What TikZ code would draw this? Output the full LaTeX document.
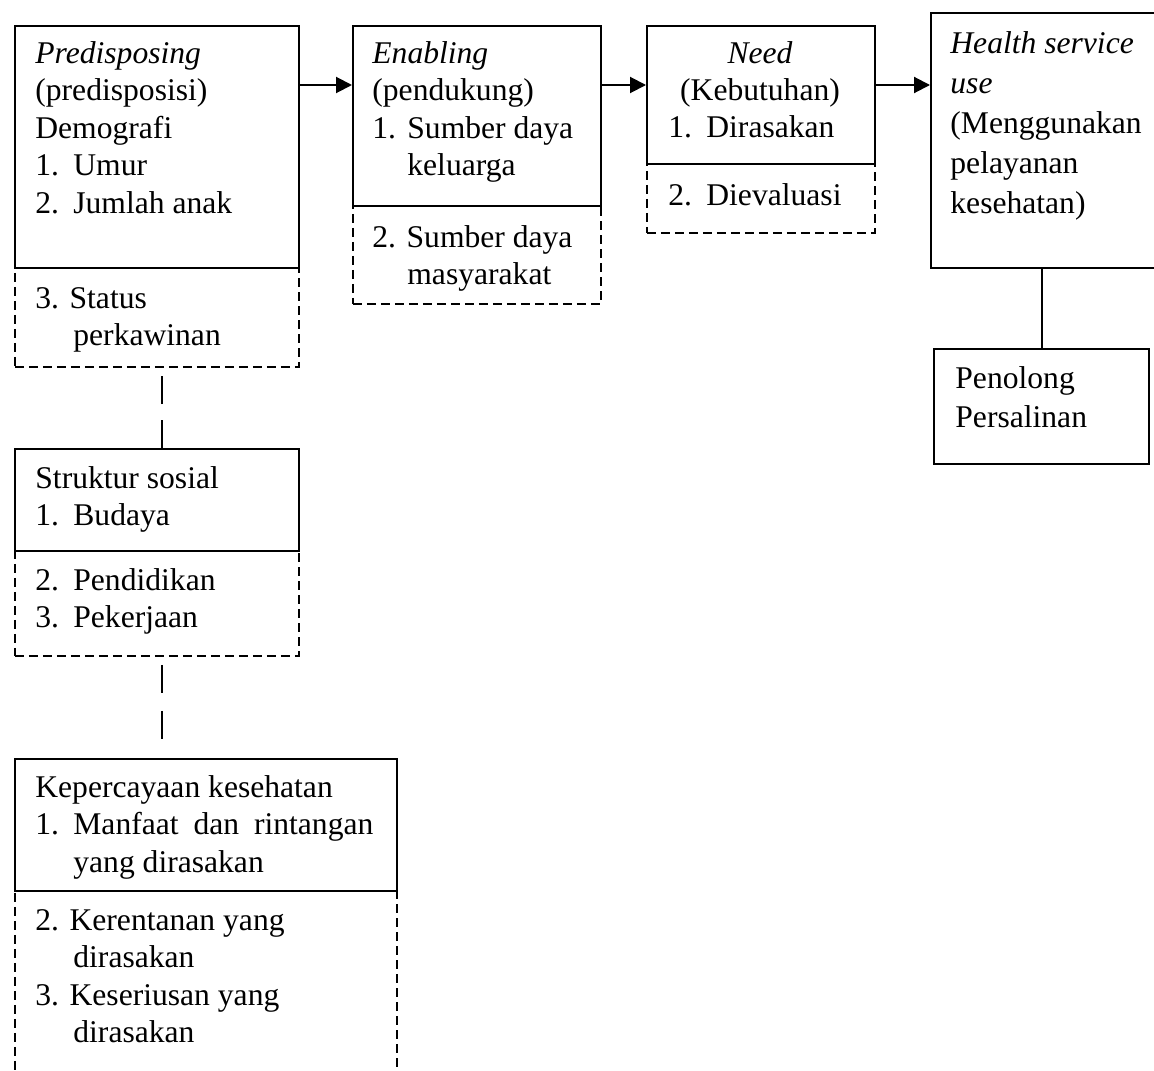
\documentclass[tikz,border=0pt]{standalone}
\usepackage{fontspec}
\setmainfont{Liberation Serif}
\usetikzlibrary{arrows.meta}

\tikzset{
  solidbox/.style={draw, line width=1pt, anchor=north west, inner sep=0pt},
  dashbox/.style={draw, line width=0.9pt, dash pattern=on 4.5pt off 2.5pt, anchor=north west, inner sep=0pt},
  txt/.style={anchor=north west, inner sep=0pt, align=left, font=\fontsize{15.8}{18.75}\selectfont},
  flow/.style={line width=1pt, -{Triangle[length=8pt,width=8pt]}},
  link/.style={line width=1pt, dash pattern=on 14pt off 8pt},
}
\newcommand{\itm}[1]{\makebox[19pt][l]{#1}}
\newcommand{\ind}{\hspace*{19pt}}

\begin{document}
\begin{tikzpicture}[x=0.5pt,y=-0.5pt]
  \useasboundingbox (0,0) rectangle (1154,1070);
  \clip (0,0) rectangle (1154,1070);
  % dashed parts
  \node[dashbox, minimum width=142pt, minimum height=49.5pt] (pre2) at (14,267) {};
  \node[dashbox, minimum width=124pt, minimum height=49pt] (ena2) at (352,205) {};
  \node[dashbox, minimum width=114pt, minimum height=34.5pt] (need2) at (646,163) {};
  \node[dashbox, minimum width=142pt, minimum height=52.5pt] (soc2) at (14,550) {};
  \node[dashbox, minimum width=191pt, minimum height=100pt] (kep2) at (14,890) {};
  % solid parts
  \node[solidbox, minimum width=142pt, minimum height=121pt] (pre) at (14,25) {};
  \node[solidbox, minimum width=124pt, minimum height=90pt] (ena) at (352,25) {};
  \node[solidbox, minimum width=114pt, minimum height=69pt] (need) at (646,25) {};
  \node[solidbox, minimum width=120pt, minimum height=127.5pt] (hsu) at (930,12) {};
  \node[solidbox, minimum width=107.5pt, minimum height=57.5pt] (pen) at (933,348) {};
  \node[solidbox, minimum width=142pt, minimum height=51pt] (soc) at (14,448) {};
  \node[solidbox, minimum width=191pt, minimum height=66pt] (kep) at (14,758) {};
  % texts
  \node[txt] (tpre) at (35,36.75) {\strut\textit{Predisposing}\\(predisposisi)\\Demografi\\\itm{1.}Umur\\\itm{2.}Jumlah anak};
  \node[txt] (tpre2) at (35,281.75) {\strut 3. Status\\\ind perkawinan};
  \node[txt] (tena) at (372,36.75) {\strut\textit{Enabling}\\(pendukung)\\\makebox[17.5pt][l]{1.}Sumber daya\\\hspace*{17.5pt}keluarga};
  \node[txt] (tena2) at (372,220.75) {\strut 2. Sumber daya\\\hspace*{17.5pt}masyarakat};
  \node[txt, anchor=north, align=center] (tneedh) at (760,36.75) {\strut\textit{Need}\\(Kebutuhan)};
  \node[txt] (tneed) at (668,110.75) {\strut\itm{1.}Dirasakan};
  \node[txt] (tneed2) at (668,178.75) {\strut\itm{2.}Dievaluasi};
  \node[txt, font=\fontsize{15.8}{20}\selectfont] (thsu) at (950,25) {\strut\textit{Health service}\\\textit{use}\\(Menggunakan\\pelayanan\\kesehatan)};
  \node[txt, font=\fontsize{15.8}{19.5}\selectfont] (tpen) at (955,360.7) {\strut Penolong\\Persalinan};
  \node[txt] (tsoc) at (35,461.75) {\strut Struktur sosial\\\itm{1.}Budaya};
  \node[txt] (tsoc2) at (35,563.75) {\strut\itm{2.}Pendidikan\\\itm{3.}Pekerjaan};
  \node[txt] (tkep) at (35,770.75) {\strut Kepercayaan kesehatan\\\itm{1.}\makebox[150pt][s]{Manfaat dan rintangan}\\\ind yang dirasakan};
  \node[txt] (tkep2) at (35,903.75) {\strut 2. Kerentanan yang\\\ind dirasakan\\3. Keseriusan yang\\\ind dirasakan};
  % connectors
  \coordinate (lvl) at (0,85);
  \draw[flow] (pre.east |- lvl) -- (ena.west |- lvl);
  \draw[flow] (ena.east |- lvl) -- (need.west |- lvl);
  \draw[flow] (need.east |- lvl) -- (hsu.west |- lvl);
  \draw[line width=1pt] (pen.north) -- (pen.north |- hsu.south);
  \draw[link] ([xshift=2.5pt]soc.north) -- ([xshift=2.5pt]soc.north |- pre2.south);
  \draw[link, dash pattern=on 14pt off 9pt, dash phase=19pt, shorten >=1.5pt] ([xshift=2.5pt]soc2.south) -- ([xshift=2.5pt]soc2.south |- kep.north);
\end{tikzpicture}
\end{document}
